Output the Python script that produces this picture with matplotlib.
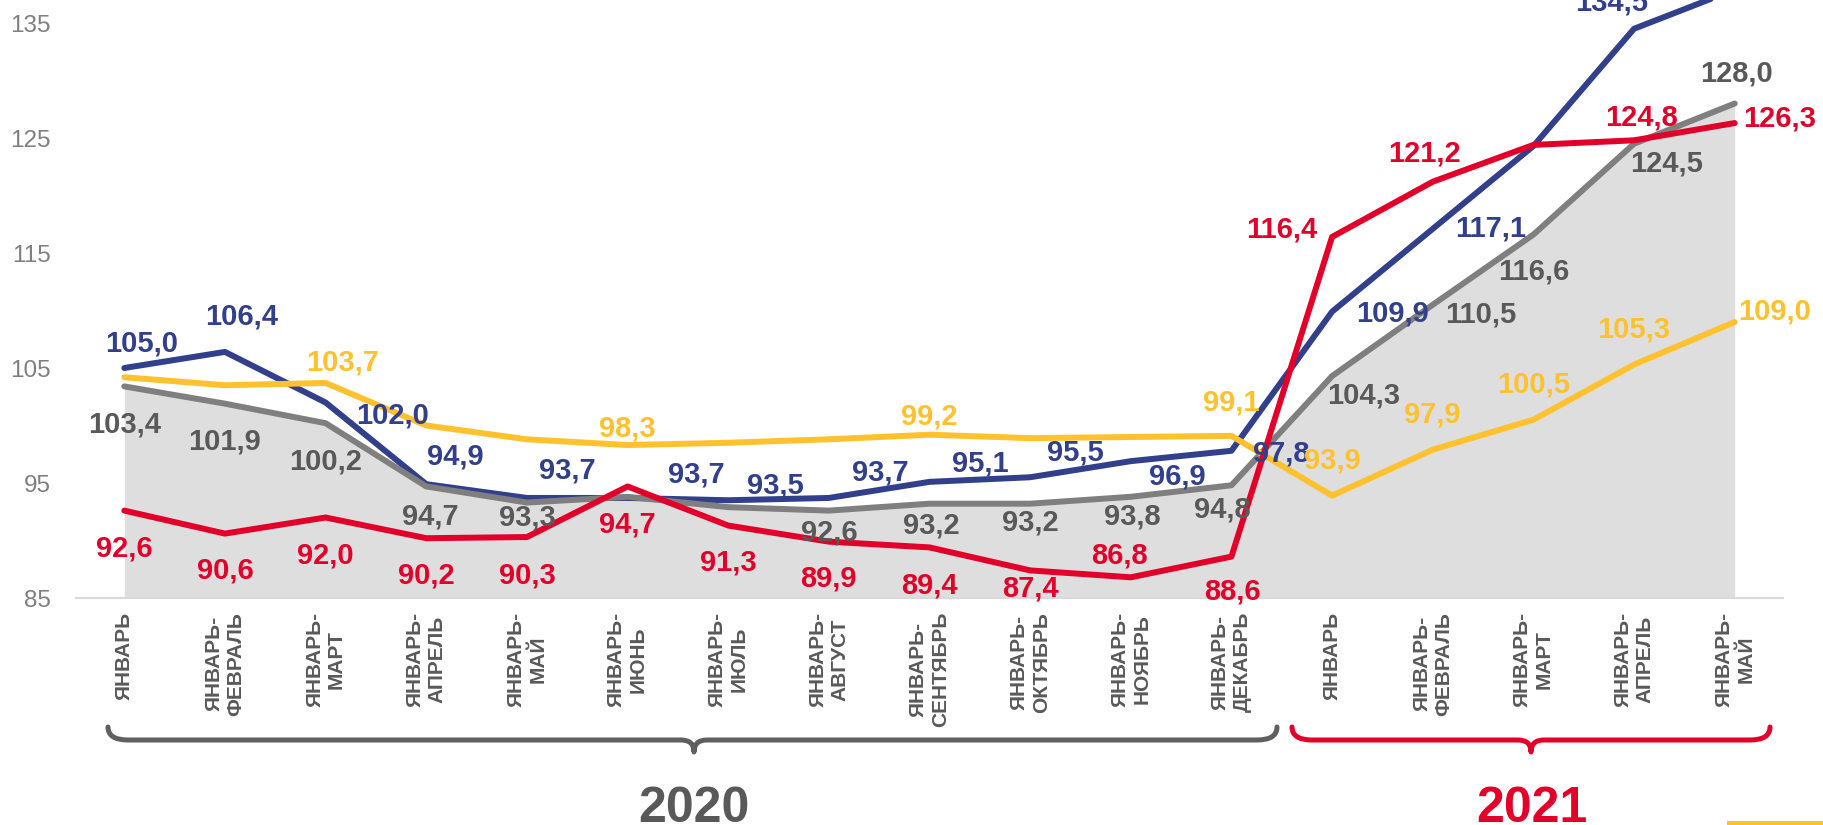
import matplotlib
matplotlib.use("Agg")
import matplotlib.pyplot as plt
from matplotlib.path import Path
from matplotlib.patches import PathPatch, Rectangle

plt.rcParams['font.family'] = ['Liberation Sans', 'DejaVu Sans']

# categories (2020: 12 periods, 2021: 5 periods)
months = ['ЯНВАРЬ', 'ЯНВАРЬ-\nФЕВРАЛЬ', 'ЯНВАРЬ-\nМАРТ', 'ЯНВАРЬ-\nАПРЕЛЬ', 'ЯНВАРЬ-\nМАЙ',
          'ЯНВАРЬ-\nИЮНЬ', 'ЯНВАРЬ-\nИЮЛЬ', 'ЯНВАРЬ-\nАВГУСТ', 'ЯНВАРЬ-\nСЕНТЯБРЬ',
          'ЯНВАРЬ-\nОКТЯБРЬ', 'ЯНВАРЬ-\nНОЯБРЬ', 'ЯНВАРЬ-\nДЕКАБРЬ',
          'ЯНВАРЬ', 'ЯНВАРЬ-\nФЕВРАЛЬ', 'ЯНВАРЬ-\nМАРТ', 'ЯНВАРЬ-\nАПРЕЛЬ', 'ЯНВАРЬ-\nМАЙ']
years = ['2020', '2021']

blue = [105.0, 106.4, 102.0, 94.9, 93.7, 93.7, 93.5, 93.7, 95.1, 95.5, 96.9, 97.8,
        109.9, 117.1, 124.3, 134.5, 137.9]
gray = [103.4, 101.9, 100.2, 94.7, 93.3, 93.8, 92.9, 92.6, 93.2, 93.2, 93.8, 94.8,
        104.3, 110.5, 116.6, 124.5, 128.0]
red = [92.6, 90.6, 92.0, 90.2, 90.3, 94.7, 91.3, 89.9, 89.4, 87.4, 86.8, 88.6,
       116.4, 121.2, 124.4, 124.8, 126.3]
yellow = [104.2, 103.5, 103.7, 100.0, 98.8, 98.3, 98.5, 98.8, 99.2, 98.9, 99.0, 99.1,
          93.9, 97.9, 100.5, 105.3, 109.0]

# label offsets in pixels (dx right, dy down) for the points that carry a label
blue_lbl = {0: (17, -25), 1: (17, -35), 2: (67, 13), 3: (29, -28), 4: (40, -27),
            5: (69, -23), 6: (47, -15), 7: (51, -25), 8: (51, -18), 9: (45, -25),
            10: (47, 15), 11: (50, 3), 12: (60, 2), 13: (58, 0), 15: (-22, -26)}
gray_lbl = {0: (0, 38), 1: (0, 38), 2: (0, 38), 3: (4, 30), 4: (0, 15), 7: (0, 22),
            8: (2, 22), 9: (0, 19), 10: (2, 20), 11: (-9, 24), 12: (32, 19),
            13: (48, 10), 14: (0, 37), 15: (33, 20), 16: (2, -30)}
red_lbl = {0: (0, 38), 1: (0, 37), 2: (0, 38), 3: (0, 37), 4: (0, 38), 5: (0, 38),
           6: (0, 37), 7: (0, 37), 8: (0, 38), 9: (0, 18), 10: (-11, -22), 11: (1, 35),
           12: (-50, -7), 13: (-8, -28), 15: (7, -23), 16: (45, -5)}
yellow_lbl = {2: (17, -20), 5: (0, -17), 8: (0, -18), 11: (0, -33), 12: (0, -35),
              13: (0, -35), 14: (0, -35), 15: (0, -35), 16: (40, -11)}

C_BLUE = '#323F8A'
C_RED = '#E2002A'
C_YEL = '#FFC22E'
C_GRAY = '#7F7F7F'
C_GLBL = '#595959'
C_FILL = '#DEDEDE'

W, H = 1823, 825
fig = plt.figure(figsize=(W / 100, H / 100), dpi=100)
ax = fig.add_axes([76 / W, 1 - 598 / H, (1783 - 76) / W, 598 / H])

x = list(range(len(months)))
ax.fill_between(x, 85, gray, color=C_FILL, lw=0, zorder=1)
ax.plot(x, blue, color=C_BLUE, lw=4.3, zorder=3, solid_capstyle='round')
ax.plot(x, gray, color=C_GRAY, lw=4.3, zorder=4, solid_capstyle='round')
ax.plot(x, yellow, color=C_YEL, lw=4.3, zorder=5, solid_capstyle='round')
ax.plot(x, red, color=C_RED, lw=4.3, zorder=6, solid_capstyle='round')


def put_labels(vals, offs, color):
    for i, (dx, dy) in offs.items():
        ax.annotate(f'{vals[i]:.1f}'.replace('.', ','), (i, vals[i]),
                    xytext=(dx, -dy), textcoords='offset pixels',
                    ha='center', va='center', fontsize=21, fontweight='bold',
                    color=color, zorder=10)


put_labels(blue, blue_lbl, C_BLUE)
put_labels(gray, gray_lbl, C_GLBL)
put_labels(red, red_lbl, C_RED)
put_labels(yellow, yellow_lbl, C_YEL)

ax.set_xlim(-0.48, 16.48)
ax.set_ylim(85, 137)
ax.set_yticks([85, 95, 105, 115, 125, 135])
ax.tick_params(axis='y', length=0, pad=18, labelsize=17.5, labelcolor='#7F7F7F')
ax.set_xticks(x)
ax.set_xticklabels(months, rotation=90, multialignment='center',
                   fontsize=15, fontweight='bold', color=C_GLBL)
ax.tick_params(axis='x', length=0, pad=10)
for s in ['top', 'right', 'left']:
    ax.spines[s].set_visible(False)
ax.spines['bottom'].set_color('#D9D9D9')
ax.spines['bottom'].set_linewidth(1.5)

# overlay in figure pixels for braces, year captions
ov = fig.add_axes([0, 0, 1, 1])
ov.set_xlim(0, W)
ov.set_ylim(H, 0)
ov.axis('off')


def brace(x0, x1, xm, color):
    yt, yl, ytip, r, r2 = 727, 740, 752, 20, 13
    verts = [(x0, yt), (x0, yl), (x0 + r, yl),
             (xm - r2, yl), (xm, yl), (xm, ytip),
             (xm, yl), (xm + r2, yl),
             (x1 - r, yl), (x1, yl), (x1, yt)]
    codes = [Path.MOVETO, Path.CURVE3, Path.CURVE3,
             Path.LINETO, Path.CURVE3, Path.CURVE3,
             Path.CURVE3, Path.CURVE3,
             Path.LINETO, Path.CURVE3, Path.CURVE3]
    ov.add_patch(PathPatch(Path(verts, codes), fill=False, edgecolor=color,
                           lw=3.6, capstyle='round', joinstyle='round'))


brace(108, 1277, 694, '#5F5F5F')
brace(1292, 1770, 1531, C_RED)
ov.text(694, 822, years[0], ha='center', va='baseline', fontsize=36,
        fontweight='bold', color=C_GLBL)
ov.text(1532, 822, years[1], ha='center', va='baseline', fontsize=36,
        fontweight='bold', color=C_RED)
ov.add_patch(Rectangle((1727, 821), 96, 4, color=C_YEL, lw=0))

fig.savefig('out.png', dpi=100)
